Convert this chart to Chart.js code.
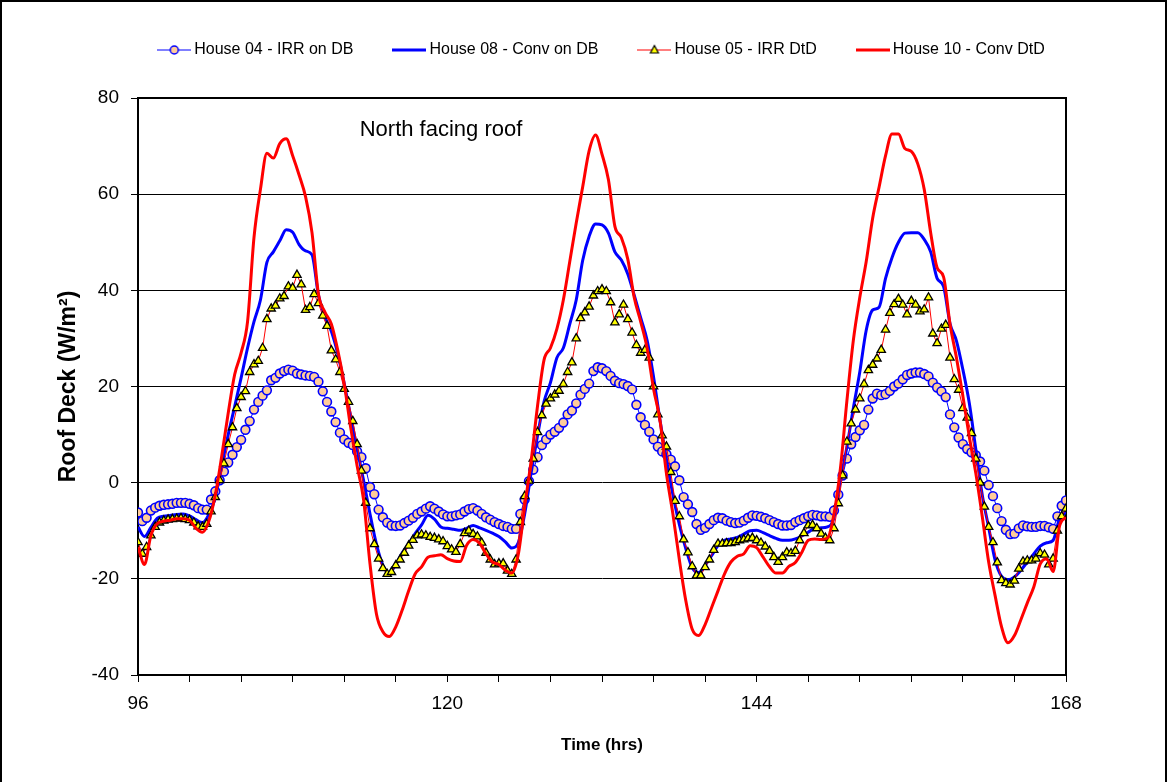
<!DOCTYPE html>
<html>
<head>
<meta charset="utf-8">
<title>Roof Deck - North facing roof</title>
<script src="https://cdn.jsdelivr.net/npm/chart.js@4.4.1/dist/chart.umd.min.js"></script>
<style>
  html, body { margin: 0; padding: 0; background: #fff; }
  #wrap { position: relative; width: 1167px; height: 782px; }
  #frame { position: absolute; left: 0; top: 0; width: 1163px; height: 782px; border: 2px solid #000; border-bottom: none; pointer-events: none; }
</style>
</head>
<body>
<div id="wrap">
  <canvas id="roofChart" width="1167" height="782"></canvas>
  <div id="frame"></div>
</div>
<script>
const canvas = document.getElementById('roofChart');

// time axis: series start at hour 96
const startHour = 96;
const lineStep = 0.5;      // plain lines, one value every 30 min
const markerStep = 1 / 3;  // marker series, one value every 20 min

const xTickLabels = [96, 120, 144, 168];
const seriesLabels = ['House 04 - IRR on DB', 'House 08 - Conv on DB', 'House 05 - IRR DtD', 'House 10 - Conv DtD'];
const noteText = 'North facing roof';

// House 04 - IRR on DB (20 min values)
const house04 = [
  -6.2, -8.0, -7.3,  -5.8, -5.2, -4.8,  -4.6, -4.5, -4.4,  -4.2, -4.2, -4.2,
  -4.4, -4.7, -5.3,  -5.6, -5.6, -3.5,  -1.8, 0.5, 2.3,  4.2, 5.8, 7.4,
  8.9, 11.0, 12.8,  15.2, 16.8, 18.1,  19.2, 21.3, 21.8,  22.7, 23.2, 23.5,
  23.3, 22.7, 22.5,  22.3, 22.2, 22.0,  21.0, 19.0, 16.8,  14.8, 12.6, 10.4,
  9.0, 8.3, 7.8,  6.5, 5.3, 3.0,  -0.9, -2.4, -5.6,  -7.2, -8.3, -8.9,
  -9.0, -8.9, -8.4,  -7.9, -7.3, -6.5,  -6.0, -5.4, -4.9,  -5.4, -6.0, -6.6,
  -7.0, -7.0, -6.8,  -6.6, -6.0, -5.5,  -5.3, -5.8, -6.5,  -7.2, -7.7, -8.2,
  -8.6, -9.0, -9.2,  -9.6, -9.6, -6.5,  -3.5, 0.3, 2.7,  5.3, 7.8, 9.0,
  10.0, 10.6, 11.4,  12.5, 14.2, 15.0,  16.5, 18.3, 19.5,  20.6, 23.2, 24.0,
  23.8, 23.2, 22.2,  21.2, 20.7, 20.5,  20.1, 19.4, 16.2,  13.6, 12.0, 10.6,
  9.0, 7.5, 6.5,  5.9, 4.8, 3.4,  0.5, -3.0, -4.5,  -6.1, -8.6, -9.8,
  -9.4, -8.6, -7.8,  -7.3, -7.4, -7.9,  -8.2, -8.4, -8.3,  -7.9, -7.3, -6.8,
  -6.9, -7.1, -7.4,  -7.8, -8.2, -8.6,  -8.9, -8.9, -8.8,  -8.2, -7.8, -7.4,
  -7.0, -6.7, -6.8,  -7.0, -7.0, -7.1,  -5.8, -2.5, 1.5,  5.0, 8.0, 9.5,
  10.9, 12.0, 15.2,  17.5, 18.5, 18.2,  18.4, 19.1, 20.0,  20.6, 21.5, 22.4,
  22.7, 22.9, 22.9,  22.6, 22.1, 20.8,  19.8, 19.0, 17.8,  14.2, 11.5, 9.4,
  8.0, 7.0, 6.3,  5.7, 4.4, 2.5,  -0.5, -2.8, -5.3,  -8.0, -9.8, -10.7,
  -10.6, -9.5, -8.9,  -9.1, -9.2, -9.2,  -9.0, -9.0, -9.3,  -9.6, -7.0, -4.8,
  -3.7
];

// House 08 - Conv on DB (30 min values)
const house08 = [
  -9.2, -11.2,  -9.3, -7.4,  -7.0, -6.8,  -6.6, -6.5,  -6.9, -7.7,  -8.3, -6.6,
  -3.0, 3.5,  10.0, 15.8,  21.8, 28.0,  33.5, 38.0,  45.8, 48.0,  50.3, 52.6,
  52.1, 49.5,  48.2, 47.4,  39.0, 34.5,  31.5, 26.8,  20.6, 13.8,  7.0, 0.5,
  -6.5, -12.8,  -17.2, -18.8,  -17.0, -14.6,  -12.7, -10.6,  -8.8, -6.8,  -7.6, -9.2,
  -9.5, -9.7,  -9.9, -9.5,  -8.9, -9.4,  -9.9, -10.5,  -11.2, -12.3,  -13.6, -12.5,
  -6.5, 2.0,  9.8, 16.8,  20.8, 26.0,  28.0, 33.0,  38.0, 46.2,  51.2, 53.8,
  53.6, 51.9,  48.0, 46.3,  43.4, 39.0,  34.3, 29.6,  22.0, 13.0,  4.8, -2.5,
  -8.7, -13.7,  -17.7, -18.7,  -17.2, -15.2,  -13.1, -12.0,  -11.7, -11.4,  -10.7, -10.0,
  -9.9, -10.4,  -11.0, -11.6,  -12.0, -12.0,  -11.7, -11.1,  -10.3, -9.5,  -9.4, -9.2,
  -7.3, 0.5,  7.4, 15.5,  23.0, 31.7,  35.9, 36.5,  42.5, 46.8,  50.0, 51.9,
  52.0, 52.0,  50.6, 48.0,  42.5, 40.8,  33.1, 29.5,  23.5, 16.5,  7.0, -2.5,
  -9.3, -16.1,  -19.5, -20.2,  -19.6, -18.2,  -16.5, -14.8,  -13.2, -12.5,  -12.0, -7.5,
  -6.1
];

// House 05 - IRR DtD (20 min values)
const house05 = [
  -12.4, -14.8, -13.4,  -11.0, -9.2, -8.3,  -7.9, -7.7, -7.6,  -7.5, -7.4, -7.6,
  -7.8, -8.3, -9.1,  -9.2, -8.6, -6.0,  -3.0, 0.5, 4.0,  8.0, 11.5, 15.5,
  17.8, 19.0, 23.0,  24.6, 25.3, 28.0,  34.0, 36.2, 36.8,  38.3, 38.8, 40.8,
  40.5, 43.2, 41.2,  35.9, 36.5, 39.2,  37.3, 34.7, 32.6,  27.5, 25.6, 23.0,
  19.5, 16.8, 12.8,  8.0, 2.5, -4.2,  -9.5, -12.8, -15.8,  -17.8, -19.0, -18.6,
  -17.2, -16.0, -14.6,  -13.1, -11.9, -11.0,  -10.8, -11.0, -11.3,  -11.5, -11.8, -12.2,
  -13.2, -13.9, -14.4,  -12.8, -10.5, -10.0,  -10.7, -11.2, -12.5,  -14.6, -16.0, -17.0,
  -16.8, -16.8, -18.3,  -19.0, -16.0, -8.2,  -2.8, 0.4, 5.0,  10.5, 14.0, 16.4,
  17.5, 18.3, 19.1,  20.5, 23.0, 25.0,  30.0, 34.2, 35.4,  36.6, 38.9, 39.8,
  40.2, 39.8, 37.5,  33.3, 35.0, 37.0,  34.0, 31.2, 28.6,  27.0, 27.6, 26.0,
  20.0, 14.2, 9.8,  7.5, 2.2, -3.8,  -7.0, -11.8, -14.5,  -17.4, -19.3, -19.3,
  -17.6, -16.0, -14.0,  -12.7, -12.7, -12.6,  -12.6, -12.4, -12.0,  -11.8, -11.6, -11.5,
  -12.0, -12.5, -13.3,  -14.2, -15.5, -16.5,  -15.5, -14.5, -14.7,  -14.2, -12.0, -10.5,
  -8.9, -8.8, -9.5,  -10.6, -11.5, -12.0,  -9.5, -4.3, 1.5,  8.5, 12.3, 15.2,
  17.5, 20.5, 23.4,  24.5, 25.8, 27.6,  31.8, 35.3, 37.1,  38.2, 37.0, 35.0,
  37.8, 37.0, 35.6,  36.0, 38.5, 31.0,  29.0, 32.0, 32.8,  26.0, 21.5, 19.3,
  15.5, 13.5, 10.3,  5.0, 0.0, -5.0,  -9.2, -12.4, -16.6,  -20.3, -20.9, -21.2,
  -20.4, -17.9, -16.4,  -16.2, -16.2, -15.8,  -14.7, -15.0, -17.0,  -15.8, -10.0, -7.0,
  -5.4
];

// House 10 - Conv DtD (30 min values)
const house10 = [
  -13.4, -17.0,  -11.0, -8.5,  -8.0, -7.8,  -7.5, -7.5,  -7.8, -9.5,  -10.3, -8.0,
  -2.5, 5.6,  14.5, 22.5,  27.0, 33.5,  51.0, 61.0,  68.5, 67.5,  70.5, 71.5,
  68.0, 64.0,  59.5, 52.0,  39.2, 35.5,  33.0, 27.5,  20.5, 11.5,  3.5, -3.5,
  -16.9, -27.3,  -31.0, -32.0,  -30.0, -26.5,  -22.5, -19.0,  -17.5, -15.5,  -15.2, -15.0,
  -15.8, -16.3,  -16.4, -13.0,  -11.8, -12.6,  -14.8, -16.5,  -17.0, -18.2,  -18.8, -15.0,
  -5.0, 4.5,  16.0, 25.5,  28.0, 32.0,  38.0, 46.0,  54.0, 61.5,  69.0, 72.3,
  68.3, 63.0,  53.3, 51.0,  46.5, 38.5,  33.5, 28.0,  19.5, 13.0,  1.9, -6.5,
  -16.0, -24.5,  -30.5, -31.8,  -29.5, -26.0,  -22.5, -19.0,  -16.5, -15.3,  -14.8, -13.1,
  -13.5, -15.5,  -17.5, -18.8,  -18.8, -17.4,  -16.6, -14.5,  -12.0, -11.7,  -11.8, -11.5,
  -6.5, 3.0,  17.0, 29.6,  38.5, 46.0,  55.0, 61.5,  68.0, 72.5,  72.5, 69.5,
  68.9, 66.3,  61.0, 52.0,  44.7, 42.8,  33.0, 26.0,  18.0, 9.5,  2.0, -7.0,
  -16.5, -23.5,  -30.0, -33.3,  -31.8, -28.5,  -25.0, -21.7,  -16.9, -15.8,  -18.5, -9.0,
  -7.2
];

// position of the note, in axis units
const notePos = { x: 113.2, y: 73.4 };

const fontFamily = "'Liberation Sans', Arial, Helvetica, sans-serif";
Chart.defaults.font.family = fontFamily;
Chart.defaults.color = '#000';

function toPoints(values, step) {
  return values.map((v, i) => ({ x: startHour + i * step, y: v }));
}

// small pictures for the legend: line with optional marker
function legendSymbol(lineColor, lineWidth, marker) {
  const c = document.createElement('canvas');
  c.width = 34;
  c.height = 14;
  const ctx = c.getContext('2d');
  ctx.strokeStyle = lineColor;
  ctx.lineWidth = lineWidth;
  ctx.beginPath();
  ctx.moveTo(0, 7);
  ctx.lineTo(34, 7);
  ctx.stroke();
  if (marker == 'circle') {
    ctx.beginPath();
    ctx.arc(17, 7, 4, 0, Math.PI * 2);
    ctx.fillStyle = '#FFCC99';
    ctx.fill();
    ctx.lineWidth = 1.5;
    ctx.strokeStyle = '#0000FF';
    ctx.stroke();
  } else if (marker == 'triangle') {
    ctx.beginPath();
    ctx.moveTo(17, 2.5);
    ctx.lineTo(21, 10);
    ctx.lineTo(13, 10);
    ctx.closePath();
    ctx.fillStyle = '#FFFF00';
    ctx.fill();
    ctx.lineWidth = 1.2;
    ctx.strokeStyle = '#000';
    ctx.stroke();
  }
  return c;
}

const symbols = [
  legendSymbol('#0000FF', 1, 'circle'),
  legendSymbol('#0000FF', 3, null),
  legendSymbol('#FF0000', 1, 'triangle'),
  legendSymbol('#FF0000', 3, null)
];

// text inside the plot
const notePlugin = {
  id: 'note',
  afterDatasetsDraw(chart) {
    const ctx = chart.ctx;
    const xs = chart.scales.x;
    const ys = chart.scales.y;
    ctx.save();
    ctx.font = '22px ' + fontFamily;
    ctx.fillStyle = '#000';
    ctx.textBaseline = 'middle';
    ctx.textAlign = 'left';
    ctx.fillText(noteText, xs.getPixelForValue(notePos.x), ys.getPixelForValue(notePos.y));
    ctx.restore();
  }
};

let roofChart = new Chart(canvas, {
  type: 'line',
  data: {
    datasets: [
      {
        label: seriesLabels[0],
        data: toPoints(house04, markerStep),
        borderColor: '#0000FF',
        borderWidth: 1,
        pointStyle: 'circle',
        pointRadius: 4.4,
        pointBackgroundColor: '#FFCC99',
        pointBorderColor: '#0000FF',
        pointBorderWidth: 1.6,
        order: 3
      },
      {
        label: seriesLabels[1],
        data: toPoints(house08, lineStep),
        borderColor: '#0000FF',
        borderWidth: 3,
        pointRadius: 0,
        cubicInterpolationMode: 'monotone',
        order: 2
      },
      {
        label: seriesLabels[2],
        data: toPoints(house05, markerStep),
        borderColor: '#FF0000',
        borderWidth: 1,
        pointStyle: 'triangle',
        pointRadius: 4.8,
        pointBackgroundColor: '#FFFF00',
        pointBorderColor: '#000000',
        pointBorderWidth: 1.3,
        order: 1
      },
      {
        label: seriesLabels[3],
        data: toPoints(house10, lineStep),
        borderColor: '#FF0000',
        borderWidth: 3,
        pointRadius: 0,
        cubicInterpolationMode: 'monotone',
        order: 0
      }
    ]
  },
  options: {
    responsive: false,
    animation: false,
    devicePixelRatio: 1,
    layout: { padding: { top: -2, left: 40, right: 0, bottom: 0 } },
    scales: {
      x: {
        type: 'linear',
        position: 'bottom',
        min: 96,
        max: 168,
        afterFit: (s) => { s.height = 107; },
        ticks: {
          stepSize: 4,
          autoSkip: false,
          maxRotation: 0,
          padding: 10,
          color: '#000',
          font: { size: 19 },
          callback: (value) => xTickLabels.includes(value) ? String(value) : ''
        },
        grid: { drawOnChartArea: false, drawTicks: true, tickLength: 7, color: '#000', lineWidth: 1 },
        border: { display: true, color: '#000', width: 2 },
        title: {
          display: true,
          text: 'Time (hrs)',
          color: '#000',
          font: { size: 17, weight: 'bold' },
          padding: { top: 0, bottom: 26 }
        }
      },
      x2: {
        type: 'linear',
        position: 'top',
        afterFit: (s) => { s.height = 30; },
        ticks: { display: false },
        grid: { display: false },
        border: { display: true, color: '#000', width: 2 }
      },
      y: {
        type: 'linear',
        position: 'left',
        min: -40,
        max: 80,
        afterFit: (s) => { s.width = 98; },
        ticks: { stepSize: 20, padding: 12, color: '#000', font: { size: 19 } },
        grid: { color: '#000', lineWidth: 1, tickLength: 7 },
        border: { display: true, color: '#000', width: 2 },
        title: {
          display: true,
          text: 'Roof Deck (W/m²)',
          color: '#000',
          font: { size: 23, weight: 'bold' },
          padding: { top: 15, bottom: 0 }
        }
      },
      y2: {
        type: 'linear',
        position: 'right',
        afterFit: (s) => { s.width = 101; },
        ticks: { display: false },
        grid: { display: false },
        border: { display: true, color: '#000', width: 2 }
      }
    },
    plugins: {
      legend: {
        position: 'top',
        labels: {
          usePointStyle: true,
          pointStyleWidth: 24,
          padding: 44,
          color: '#000',
          font: { size: 16 },
          generateLabels: (chart) => chart.data.datasets.map((ds, i) => ({
            text: ds.label,
            pointStyle: symbols[i],
            datasetIndex: i,
            hidden: false,
            lineWidth: 0,
            fillStyle: 'rgba(0,0,0,0)',
            strokeStyle: 'rgba(0,0,0,0)',
            fontColor: '#000'
          }))
        }
      },
      tooltip: { enabled: false }
    }
  },
  plugins: [notePlugin]
});
</script>
</body>
</html>
